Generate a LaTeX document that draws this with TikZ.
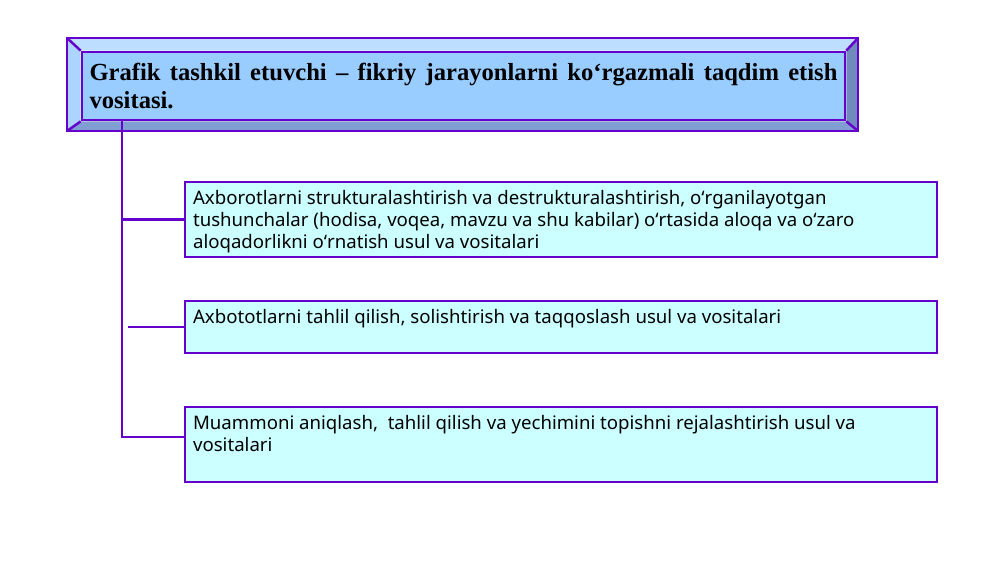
\documentclass[tikz,border=0pt]{standalone}
\usepackage{fontspec}
\setmainfont{Liberation Serif}
\newfontfamily\boxfont{Noto Sans}
\usetikzlibrary{positioning}
\usetikzlibrary{calc}

\definecolor{linepurple}{RGB}{102,0,204}
\definecolor{titleblue}{RGB}{153,204,255}
\definecolor{bevtop}{RGB}{190,222,255}
\definecolor{bevleft}{RGB}{172,212,255}
\definecolor{bevbottom}{RGB}{128,158,210}
\definecolor{bevright}{RGB}{112,138,190}
\definecolor{boxcyan}{RGB}{204,255,255}

\tikzset{
titlebox/.style={draw=linepurple, line width=1.6pt, fill=titleblue, minimum width=15.26cm, minimum height=1.36cm, inner xsep=0.15cm, text width=14.96cm, align=justify, font=\fontsize{14}{15.6}\selectfont\bfseries},
branchbox/.style={draw=linepurple, line width=1.6pt, fill=boxcyan, minimum width=15.04cm, inner xsep=0.16cm, inner ysep=0.16cm, font=\boxfont\fontsize{10.6}{12.6}\selectfont},
trunk/.style={draw=linepurple, line width=1.6pt},
bevline/.style={draw=linepurple, line width=1.4pt}
}

\begin{document}
\begin{tikzpicture}[x=0.02cm,y=0.02cm]
\useasboundingbox (0,0) rectangle (1000,562);

% bevelled frame
\coordinate (oNW) at (67,524);
\coordinate (oNE) at (858,524);
\coordinate (oSE) at (858,431);
\coordinate (oSW) at (67,431);
\node[titlebox](title) at (463.5,476){Grafik tashkil etuvchi -- fikriy jarayonlarni ko‘rgazmali taqdim etish vositasi.};
\fill[bevtop] (oNW) -- (oNE) -- (title.north east) -- (title.north west) -- cycle;
\fill[bevleft] (oNW) -- (title.north west) -- (title.south west) -- (oSW) -- cycle;
\fill[bevbottom] (oSW) -- (title.south west) -- (title.south east) -- (oSE) -- cycle;
\fill[bevright] (oNE) -- (oSE) -- (title.south east) -- (title.north east) -- cycle;
\node[titlebox](title) at (463.5,476){Grafik tashkil etuvchi -- fikriy jarayonlarni ko‘rgazmali taqdim etish vositasi.};
\draw[bevline] (oNW) -- (oNE) -- (oSE) -- (oSW) -- cycle;
\draw[bevline] (oNW) -- (title.north west);
\draw[bevline] (oNE) -- (title.north east);
\draw[bevline] (oSE) -- (title.south east);
\draw[bevline] (oSW) -- (title.south west);

% boxes
\node[branchbox](boxA) at (561,342.5){\parbox[c][1.18cm][t]{14.72cm}{\raggedright Axborotlarni strukturalashtirish va destrukturalashtirish, oʻrganilayotgan tushunchalar (hodisa, voqea, mavzu va shu kabilar) oʻrtasida aloqa va oʻzaro aloqadorlikni oʻrnatish usul va vositalari}};
\node[branchbox](boxB) at (561,235){\parbox[c][0.72cm][t]{14.72cm}{\raggedright Axbototlarni tahlil qilish, solishtirish va taqqoslash usul va vositalari}};
\node[branchbox](boxC) at (561,117.5){\parbox[c][1.18cm][t]{14.72cm}{\raggedright Muammoni aniqlash,\ \ tahlil qilish va yechimini topishni rejalashtirish usul va vositalari}};

% connectors
\coordinate (trunkTop) at (122,442);
\coordinate (trunkBot) at (122,125);
\coordinate (gapB) at (128,235);
\draw[trunk] (trunkTop) -- (trunkBot) -- (trunkBot -| boxC.west);
\draw[trunk] (trunkTop |- boxA.west) -- (boxA.west);
\draw[trunk] (gapB) -- (boxB.west);
\end{tikzpicture}
\end{document}
